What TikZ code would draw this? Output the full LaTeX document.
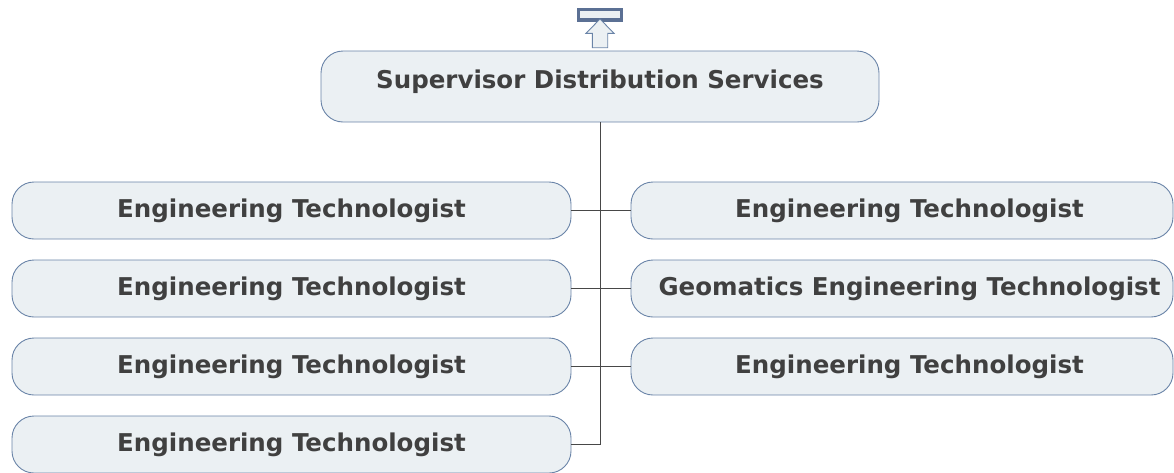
\documentclass[tikz,border=0pt]{standalone}
\usepackage{fontspec}
\setmainfont{DejaVu Sans}
\definecolor{boxfill}{HTML}{EBF0F3}
\definecolor{boxline}{HTML}{6A84A8}
\definecolor{txt}{HTML}{404040}
\definecolor{conn}{HTML}{484848}
\definecolor{iconline}{HTML}{5B7094}
\begin{document}
\begin{tikzpicture}[x=1pt,y=-1pt,
  card/.style={draw=boxline, fill=boxfill, rounded corners=22pt, line width=0.9pt,
    inner sep=0pt, font=\fontsize{24.5}{28}\selectfont\bfseries, text=txt, align=center},
  link/.style={draw=conn, line width=1pt}]
\useasboundingbox (0,0) rectangle (1174,472);
\begin{scope}
\clip (0,0) rectangle (1174,472);
% top icon
\draw[draw=iconline, fill=boxfill, line width=3.6pt] (578.5,9.5) rectangle (621.5,20);
\draw[draw=boxline, fill=boxfill, line width=0.9pt]
  (600,19) -- (614,33.3) -- (607.7,33.3) -- (607.7,47.7) -- (592.3,47.7) -- (592.3,33.3) -- (586,33.3) -- cycle;
% boxes
\node[card, minimum width=558pt, minimum height=71pt] (top) at (600,86.5) {\raisebox{5pt}[\height][\depth]{Supervisor Distribution Services}};
\node[card, minimum width=559pt, minimum height=57pt] (l1) at (291.5,210.5) {Engineering Technologist};
\node[card, minimum width=559pt, minimum height=57pt] (l2) at (291.5,288.5) {Engineering Technologist};
\node[card, minimum width=559pt, minimum height=57pt] (l3) at (291.5,366.5) {Engineering Technologist};
\node[card, minimum width=559pt, minimum height=57pt] (l4) at (291.5,444.5) {Engineering Technologist};
\node[card, minimum width=542pt, minimum height=57pt] (r1) at (902,210.5) {\hspace*{15pt}Engineering Technologist};
\node[card, minimum width=542pt, minimum height=57pt] (r2) at (902,288.5) {\hspace*{15pt}Geomatics Engineering Technologist};
\node[card, minimum width=542pt, minimum height=57pt] (r3) at (902,366.5) {\hspace*{15pt}Engineering Technologist};
\coordinate (bend) at (top.south |- l4.east);
\draw[link] (top.south) -- (bend) -- (l4.east);
\draw[link] (l1.east) -- (r1.west);
\draw[link] (l2.east) -- (r2.west);
\draw[link] (l3.east) -- (r3.west);
\end{scope}
\end{tikzpicture}
\end{document}
